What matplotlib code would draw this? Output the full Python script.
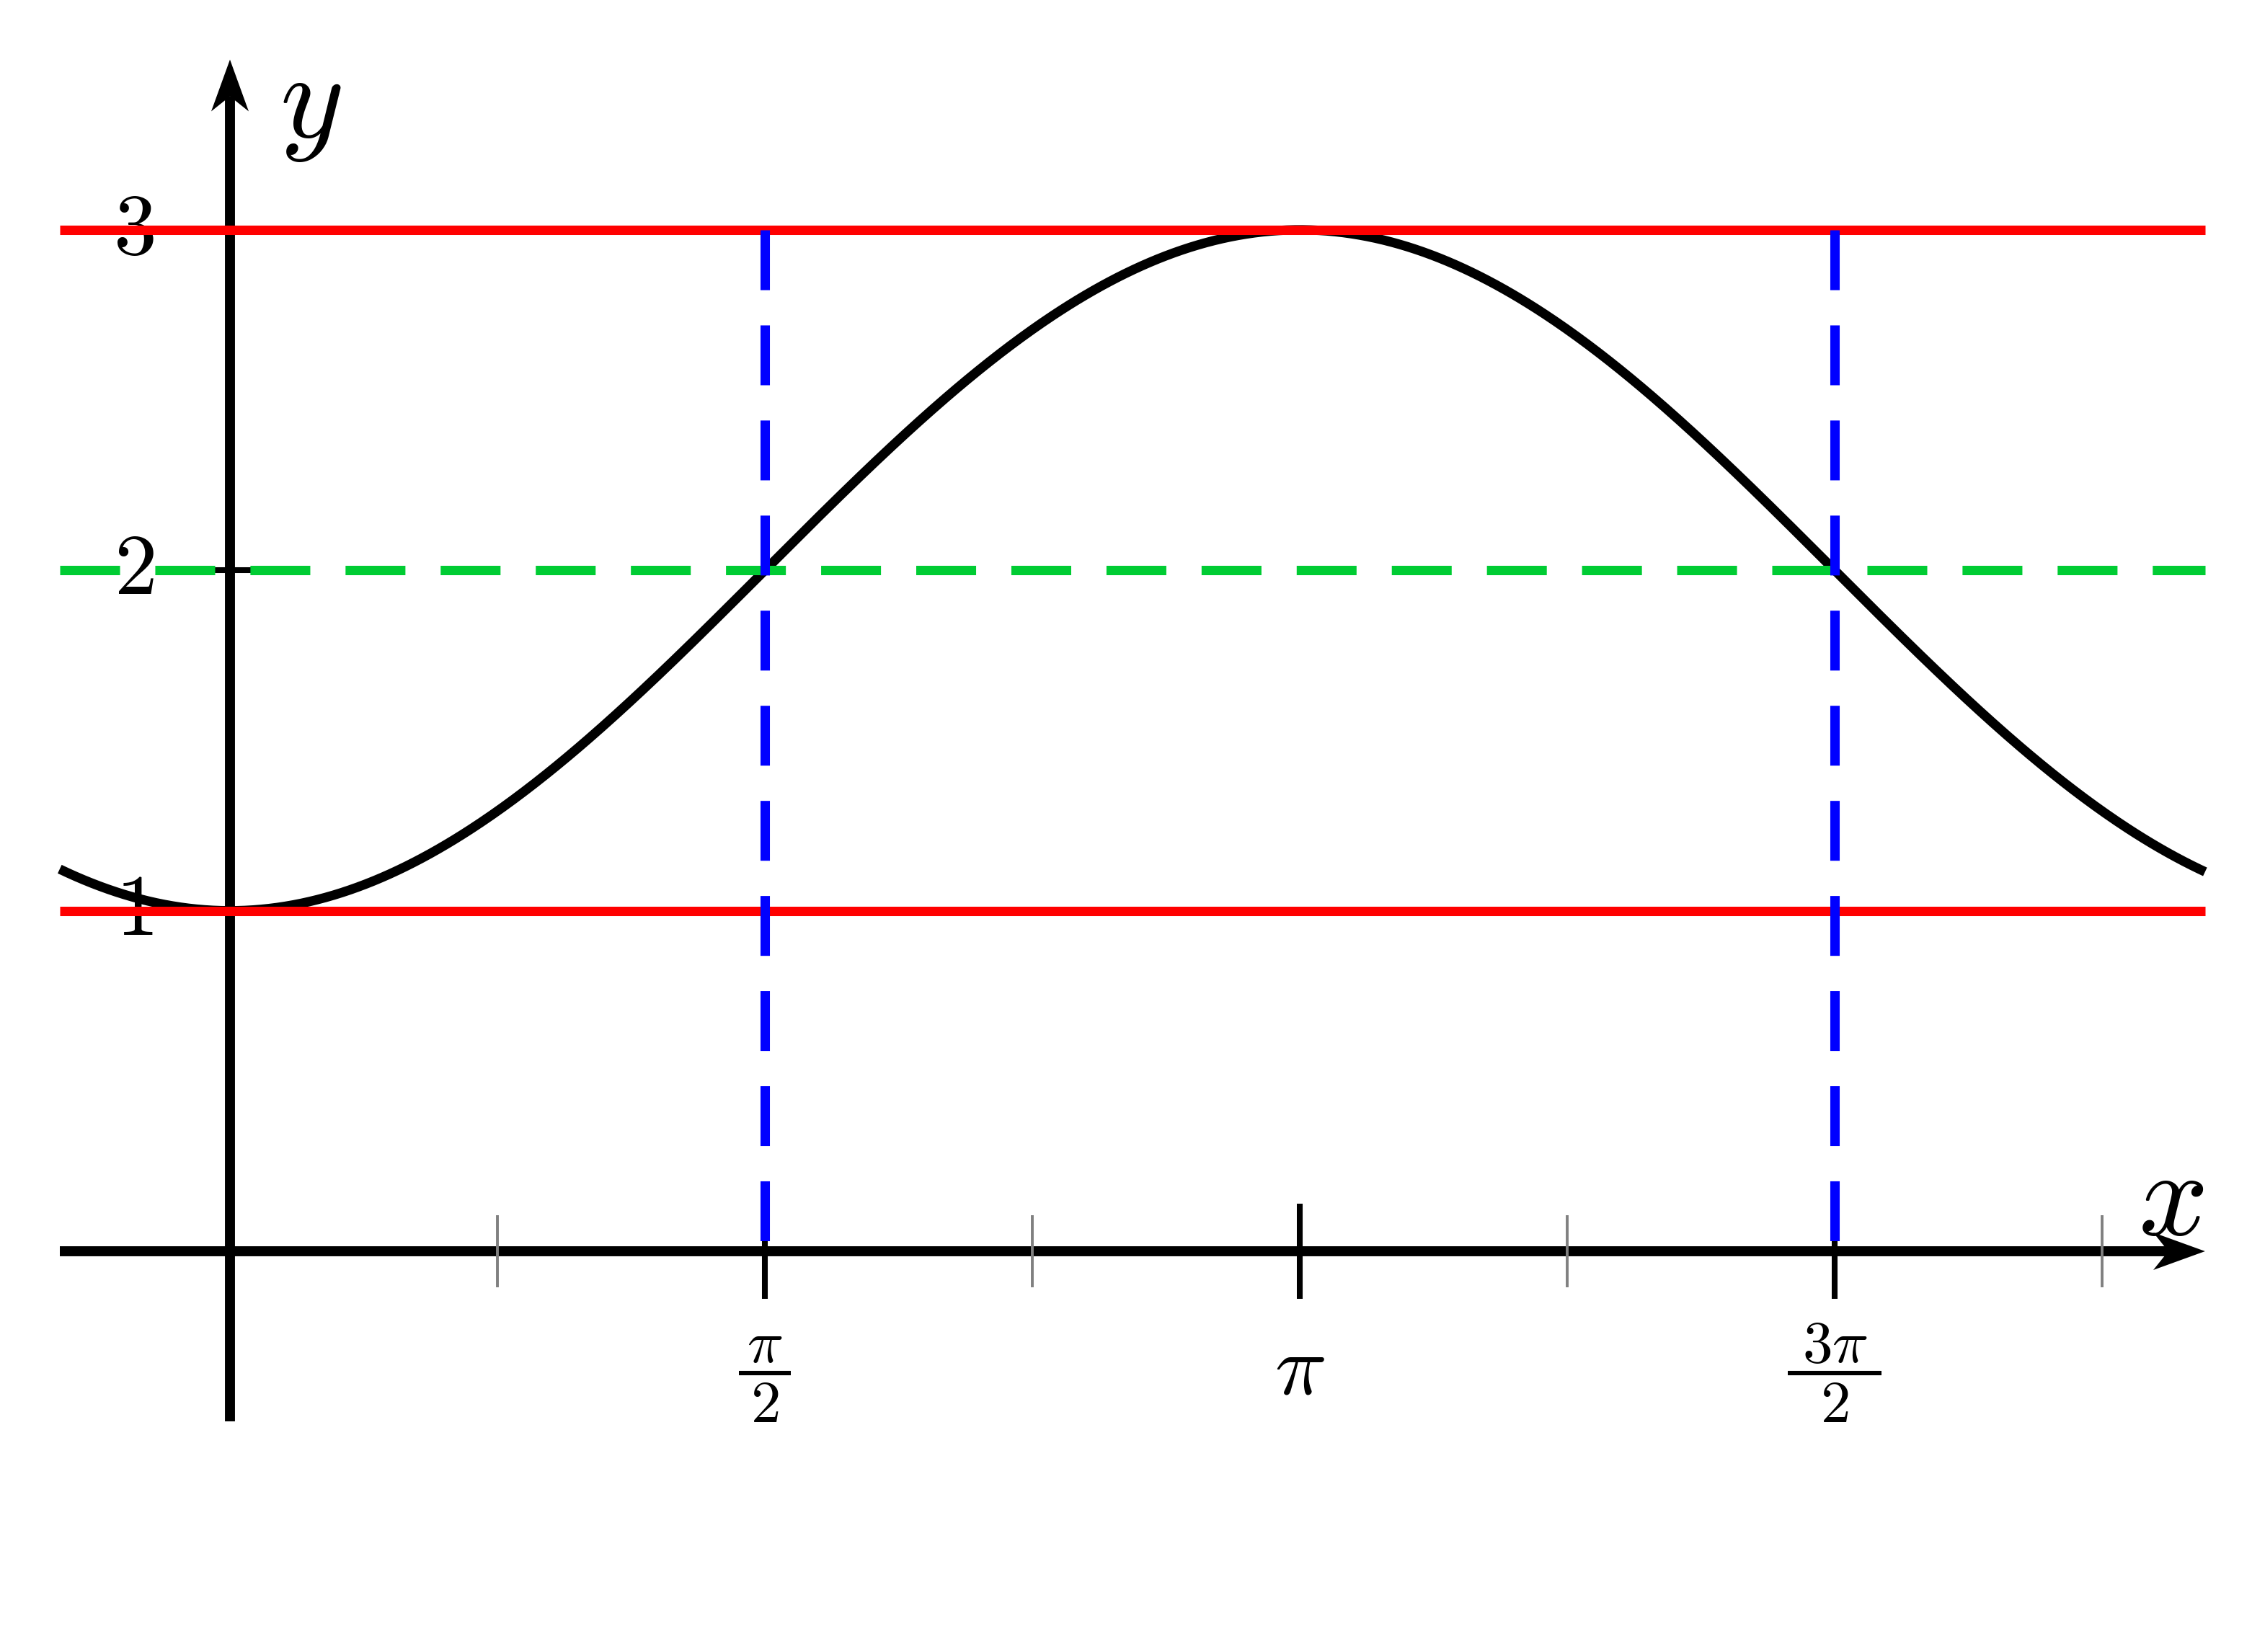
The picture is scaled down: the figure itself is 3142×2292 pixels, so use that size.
import numpy as np
import matplotlib.pyplot as plt
from matplotlib.patches import Polygon

plt.rcParams['mathtext.fontset'] = 'cm'
plt.rcParams['lines.scale_dashes'] = False

# data
x_min, x_max = -0.5, 5.8
y_min, y_max = -0.5, 3.5
x = np.linspace(x_min, x_max, 800)
y = 2 - np.cos(x)

bounds = [1, 3]          # red lines
mid_level = 2            # green dashed
marks = [np.pi / 2, 3 * np.pi / 2]   # blue dashed verticals

major_ticks = [np.pi / 2, np.pi, 3 * np.pi / 2]
# fraction labels written as numerator / denominator, plain label otherwise
label_num = [r'$\pi$', r'$\pi$', r'$3\pi$']
label_den = ['$2$', None, '$2$']
bar_half = [0.076, 0, 0.137]
minor_ticks = [np.pi / 4, 3 * np.pi / 4, 5 * np.pi / 4, 7 * np.pi / 4]
y_ticks = [1, 2, 3]
y_labels = ['$1$', '$2$', '$3$']

fig = plt.figure(figsize=(15.71, 11.46), dpi=200)
ax = fig.add_axes([0, 0, 1, 1])
ax.set_xlim(-0.6753, 5.976)
ax.set_ylim(-1.177, 3.675)
ax.axis('off')

lw = 4.7
dash = (0, (29.9, 17.6))
head_len, head_w, notch = 0.152, 0.055, 0.108

# axes with arrows
ax.plot([x_min, x_max - notch], [0, 0], color='black', lw=5, solid_capstyle='butt', zorder=2)
ax.add_patch(Polygon([(x_max, 0), (x_max - head_len, head_w), (x_max - notch, 0),
                      (x_max - head_len, -head_w)], closed=True, color='black', lw=0, zorder=2))
ax.plot([0, 0], [y_min, y_max - notch], color='black', lw=5, solid_capstyle='butt', zorder=2)
ax.add_patch(Polygon([(0, y_max), (head_w, y_max - head_len), (0, y_max - notch),
                      (-head_w, y_max - head_len)], closed=True, color='black', lw=0, zorder=2))

# ticks
ax.vlines(major_ticks, -0.14, 0.14, color='black', lw=2.9, zorder=2)
ax.vlines(minor_ticks, -0.106, 0.106, color='#808080', lw=1.4, zorder=2)
ax.hlines(y_ticks, -0.14, 0.14, color='black', lw=2.9, zorder=2)

# tick labels
for t, num, den, hw in zip(major_ticks, label_num, label_den, bar_half):
    if den is None:
        ax.text(t, -0.419, num, fontsize=43, ha='center', va='baseline')
    else:
        ax.text(t, -0.326, num, fontsize=30, ha='center', va='baseline')
        ax.text(t, -0.502, den, fontsize=30, ha='center', va='baseline')
        ax.plot([t - hw, t + hw], [-0.358, -0.358], color='black', lw=2.2,
                solid_capstyle='butt')
for t, lab in zip(y_ticks, y_labels):
    ax.text(-0.282, t, lab, fontsize=43, ha='center', va='center', zorder=1)

ax.text(5.699, 0.148, '$x$', fontsize=61, ha='center', va='center')
ax.text(0.237, 3.368, '$y$', fontsize=61, ha='center', va='center')

# curve and guide lines
ax.plot(x, y, color='black', lw=lw, solid_capstyle='butt', zorder=3)
ax.hlines(bounds, x_min, x_max, color='#ff0000', lw=lw, zorder=4)
ax.plot([x_min, x_max], [mid_level, mid_level], color='#00cc33', lw=lw,
        linestyle=dash, dash_capstyle='butt', zorder=4)
for m in marks:
    ax.plot([m, m], [bounds[1], 0], color='#0000ff', lw=lw,
            linestyle=dash, dash_capstyle='butt', zorder=5)

plt.savefig('out.png', dpi=200)
